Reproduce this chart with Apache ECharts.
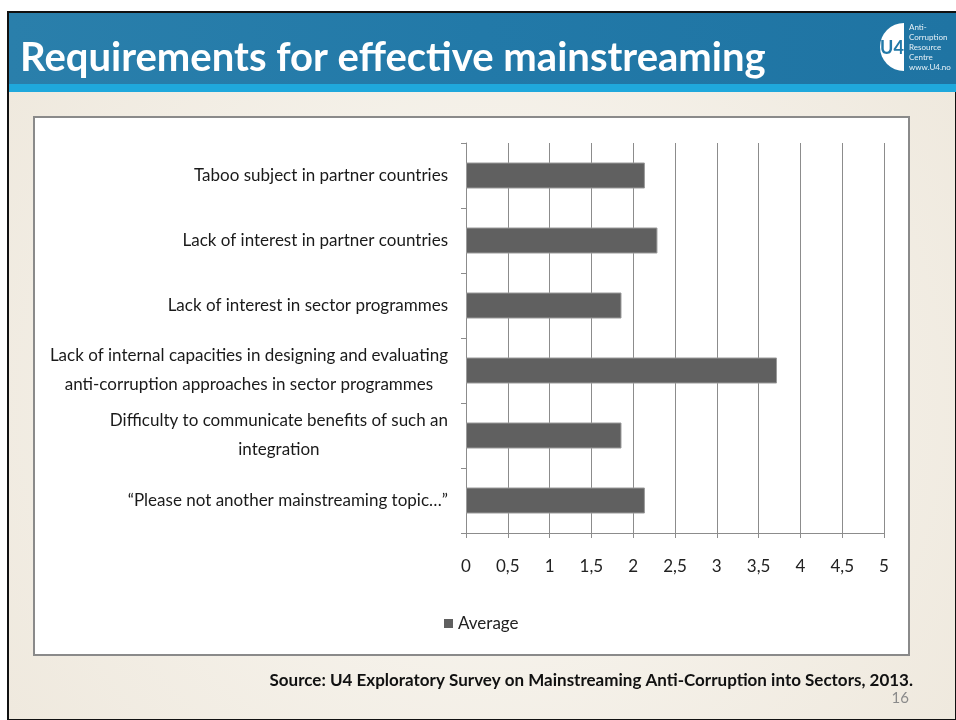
<!DOCTYPE html>
<html>
<head>
<meta charset="utf-8">
<script src="https://cdn.jsdelivr.net/npm/echarts@6/dist/echarts.min.js"></script>
<style>
html,body{margin:0;padding:0;background:#fff;}
#chart{width:956px;height:720px;}
</style>
</head>
<body>
<div id="chart"></div>
<script>
// survey answers, top to bottom as in the slide
var categories = [
  'Taboo subject in partner countries',
  'Lack of interest in partner countries',
  'Lack of interest in sector programmes',
  'Lack of internal capacities in designing and evaluating\nanti-corruption approaches in sector programmes',
  'Difficulty to communicate benefits of such an\nintegration',
  '\u201cPlease not another mainstreaming topic\u2026\u201d'
];
var averages = [2.14, 2.29, 1.86, 3.72, 1.86, 2.14];
var seriesName = 'Average';
var axisMin = 0, axisMax = 5, axisStep = 0.5;

var titleText = 'Requirements for effective mainstreaming';
var sourceText = 'Source: U4 Exploratory Survey on Mainstreaming Anti-Corruption into Sectors, 2013.';
var pageNo = '16';

var narrow = 'Lato, sans-serif';

var myChart = echarts.init(document.getElementById('chart'));
myChart.setOption({
  animation: false,
  graphic: [
    // slide background
    {type: 'rect', z: -20, shape: {x: 8, y: 12, width: 948, height: 708},
      style: {fill: new echarts.graphic.RadialGradient(0.5, 0.55, 0.8, [
        {offset: 0, color: '#faf8f3'}, {offset: 1, color: '#efe9de'}]),
        stroke: '#111', lineWidth: 2}},
    // header band
    {type: 'rect', z: -19, shape: {x: 9, y: 13, width: 947, height: 72},
      style: {fill: new echarts.graphic.LinearGradient(0, 0, 1, 0, [
        {offset: 0, color: '#2a7fab'}, {offset: 0.5, color: '#2279a8'}, {offset: 1, color: '#1f74a3'}])}},
    {type: 'rect', z: -19, shape: {x: 9, y: 84, width: 947, height: 8},
      style: {fill: '#1fa8dc'}},
    {type: 'text', z: 10, style: {x: 20, y: 58, text: titleText, fill: '#fff',
      font: 'bold 40px Lato, sans-serif', verticalAlign: 'middle'}},
    // logo
    {type: 'sector', z: 10, shape: {cx: 904, cy: 47, r: 24, startAngle: Math.PI / 2, endAngle: Math.PI * 1.5},
      style: {fill: '#fff'}},
    {type: 'text', z: 11, style: {x: 892, y: 48, text: 'U4', fill: '#2279a8',
      font: 'bold 18px Lato, sans-serif', align: 'center', verticalAlign: 'middle'}},
    {type: 'text', z: 11, style: {x: 909, y: 22, text: 'Anti-\nCorruption\nResource\nCentre\nwww.U4.no', fill: '#e8f2f8',
      font: '8px Lato, sans-serif', lineHeight: 10}},
    // chart frame
    {type: 'rect', z: -18, shape: {x: 34, y: 117, width: 875, height: 538},
      style: {fill: '#fff', stroke: '#8a8a8a', lineWidth: 2}},
    // source + page number
    {type: 'text', z: 10, style: {x: 913, y: 681, text: sourceText, fill: '#111',
      font: 'bold 17px ' + narrow, align: 'right', verticalAlign: 'middle'}},
    {type: 'text', z: 10, style: {x: 909, y: 698, text: pageNo, fill: '#8a8a8a',
      font: '15px ' + narrow, align: 'right', verticalAlign: 'middle'}}
  ],
  legend: {
    show: true,
    left: 439,
    top: 610,
    icon: 'rect',
    itemWidth: 9,
    itemHeight: 9,
    itemStyle: {borderWidth: 0},
    textStyle: {fontFamily: narrow, fontSize: 17, color: '#222'},
    data: [seriesName]
  },
  grid: {
    left: 466,
    right: 72,
    top: 143,
    bottom: 187,
    containLabel: false,
    outerBoundsMode: 'none'
  },
  xAxis: {
    type: 'value',
    min: axisMin,
    max: axisMax,
    interval: axisStep,
    axisLine: {show: true, lineStyle: {color: '#8c8c8c', width: 1}},
    axisTick: {show: true, length: 5, lineStyle: {color: '#8c8c8c'}},
    splitLine: {show: true, lineStyle: {color: '#8c8c8c', width: 1}},
    axisLabel: {
      margin: 25,
      fontFamily: narrow,
      fontSize: 17,
      color: '#222',
      formatter: function (v) { return String(v).replace('.', ','); }
    }
  },
  yAxis: {
    type: 'category',
    inverse: true,
    data: categories,
    axisLine: {show: true, lineStyle: {color: '#8c8c8c', width: 1}},
    axisTick: {show: true, length: 5, lineStyle: {color: '#8c8c8c'}},
    splitLine: {show: false},
    axisLabel: {
      margin: 18,
      fontFamily: narrow,
      fontSize: 17,
      lineHeight: 29,
      color: '#1a1a1a',
      formatter: function (v) { return '{c|' + v.split('\n').join('}\n{c|') + '}'; },
      rich: {c: {align: 'center', fontFamily: narrow, fontSize: 17, lineHeight: 29, color: '#1a1a1a'}}
    }
  },
  series: [{
    name: seriesName,
    type: 'bar',
    data: averages,
    barWidth: 26,
    itemStyle: {color: '#606060', borderColor: '#9a9a9a', borderWidth: 1}
  }]
});
</script>
</body>
</html>
